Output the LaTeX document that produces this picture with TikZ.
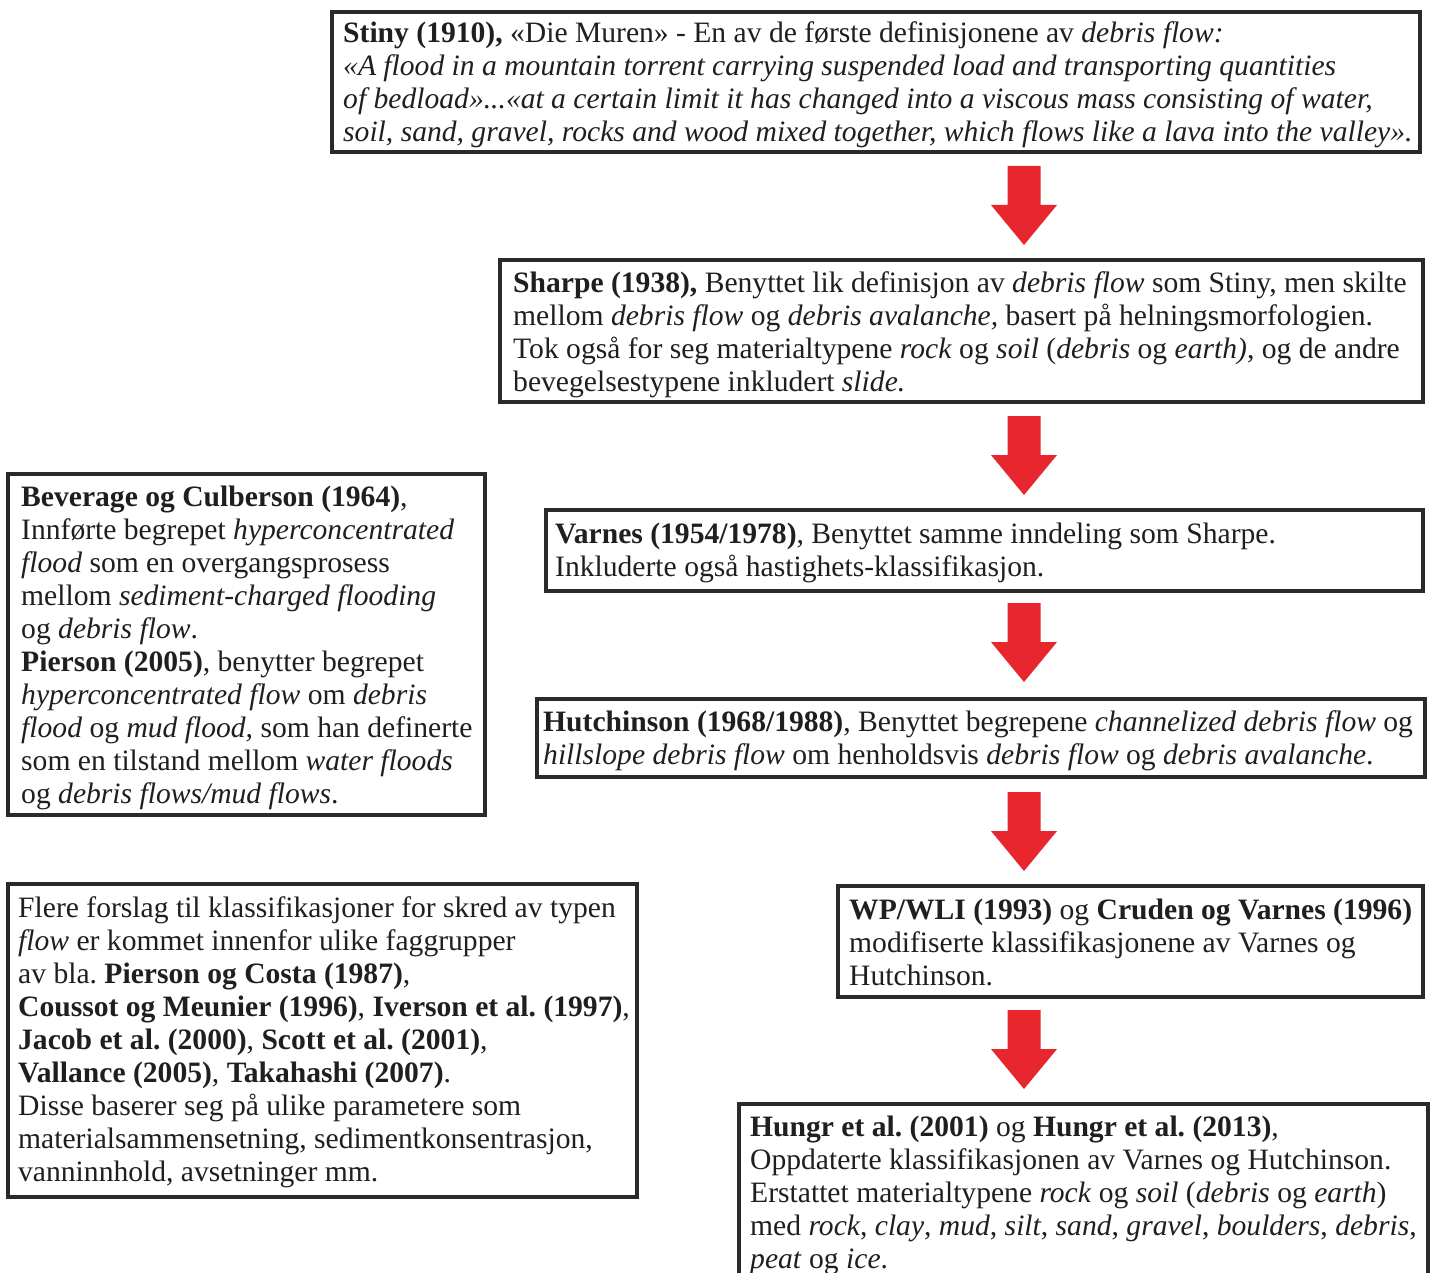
\documentclass[tikz,border=0pt]{standalone}
\usepackage{fontspec}
\setmainfont{Liberation Serif}
\definecolor{boxline}{HTML}{2A2A2A}
\definecolor{arrowred}{HTML}{E8262E}
\tikzset{
  framebox/.style={draw=boxline, line width=4pt, anchor=north west, inner sep=0pt, outer sep=0pt},
  txt/.style={anchor=north west, align=left, inner sep=0pt, text=black!88,
    font=\fontsize{29.6}{33}\selectfont\frenchspacing},
  blockarrow/.pic={\fill[arrowred] (-16.5,0) -- (16.5,0) -- (16.5,39) -- (33,39) -- (0,79) -- (-33,39) -- (-16.5,39) -- cycle;}
}
\begin{document}
\begin{tikzpicture}[x=1pt,y=-1pt]
\useasboundingbox[fill=white] (0,0) rectangle (1435,1273);
\clip (0,0) rectangle (1435,1273);
\coordinate (col) at (1024,0);
% boxes
\node[framebox, minimum width=1088pt, minimum height=140pt] (stiny) at (332,12) {};
\node[framebox, minimum width=923pt, minimum height=142pt] (sharpe) at (500,260) {};
\node[framebox, minimum width=877pt, minimum height=81pt] (varnes) at (546,510) {};
\node[framebox, minimum width=888pt, minimum height=78pt] (hutch) at (537,699) {};
\node[framebox, minimum width=585pt, minimum height=111pt] (wp) at (838,886) {};
\node[framebox, minimum width=689pt, minimum height=220pt] (hungr) at (739,1104) {};
\node[framebox, minimum width=477pt, minimum height=341pt] (bev) at (8,474) {};
\node[framebox, minimum width=629pt, minimum height=313pt] (flere) at (8,884) {};
% texts
\node[txt] (stinyt) at ([shift={(11pt,-7pt)}]stiny.north west) {\strut\textbf{Stiny (1910),} «Die Muren» - En av de første definisjonene av \textit{debris flow:}\\
\textit{«A flood in a mountain torrent carrying suspended load and transporting quantities}\\
\textit{of bedload»...«at a certain limit it has changed into a viscous mass consisting of water,}\\
\textit{soil, sand, gravel, rocks and wood mixed together, which flows like a lava into the valley».}\strut};
\node[txt] (sharpet) at ([shift={(13pt,-9pt)}]sharpe.north west) {\strut\textbf{Sharpe (1938),} Benyttet lik definisjon av \textit{debris flow} som Stiny, men skilte\\
mellom \textit{debris flow} og \textit{debris avalanche,} basert på helningsmorfologien.\\
Tok også for seg materialtypene \textit{rock} og \textit{soil} (\textit{debris} og \textit{earth)}, og de andre\\
bevegelsestypene inkludert \textit{slide.}\strut};
\node[txt] (varnest) at ([shift={(9pt,-10pt)}]varnes.north west) {\strut\textbf{Varnes (1954/1978)}, Benyttet samme inndeling som Sharpe.\\
Inkluderte også hastighets-klassifikasjon.\strut};
\node[txt] (hutcht) at ([shift={(6pt,-9pt)}]hutch.north west) {\strut\textbf{Hutchinson (1968/1988)}, Benyttet begrepene \textit{channelized debris flow} og\\
\textit{hillslope debris flow} om henholdsvis \textit{debris flow} og \textit{debris avalanche}.\strut};
\node[txt] (wpt) at ([shift={(11pt,-10pt)}]wp.north west) {\strut\textbf{WP/WLI (1993)} og \textbf{Cruden og Varnes (1996)}\\
modifiserte klassifikasjonene av Varnes og\\
Hutchinson.\strut};
\node[txt] (hungrt) at ([shift={(11pt,-9pt)}]hungr.north west) {\strut\textbf{Hungr et al. (2001)} og \textbf{Hungr et al. (2013)},\\
Oppdaterte klassifikasjonen av Varnes og Hutchinson.\\
Erstattet materialtypene \textit{rock} og \textit{soil} (\textit{debris} og \textit{earth})\\
med \textit{rock}, \textit{clay}, \textit{mud}, \textit{silt}, \textit{sand}, \textit{gravel}, \textit{boulders}, \textit{debris},\\
\textit{peat} og \textit{ice}.\strut};
\node[txt] (bevt) at ([shift={(13pt,-9pt)}]bev.north west) {\strut\textbf{Beverage og Culberson (1964)},\\
Innførte begrepet \textit{hyperconcentrated}\\
\textit{flood} som en overgangsprosess\\
mellom \textit{sediment-charged flooding}\\
og \textit{debris flow}.\\
\textbf{Pierson (2005)}, benytter begrepet\\
\textit{hyperconcentrated flow} om \textit{debris}\\
\textit{flood} og \textit{mud flood,} som han definerte\\
som en tilstand mellom \textit{water floods}\\
og \textit{debris flows/mud flows}.\strut};
\node[txt] (fleret) at ([shift={(10pt,-10pt)}]flere.north west) {\strut Flere forslag til klassifikasjoner for skred av typen\\
\textit{flow} er kommet innenfor ulike faggrupper\\
av bla. \textbf{Pierson og Costa (1987)},\\
\textbf{Coussot og Meunier (1996)}, \textbf{Iverson et al. (1997)},\\
\textbf{Jacob et al. (2000)}, \textbf{Scott et al. (2001)},\\
\textbf{Vallance (2005)}, \textbf{Takahashi (2007)}.\\
Disse baserer seg på ulike parametere som\\
materialsammensetning, sedimentkonsentrasjon,\\
vanninnhold, avsetninger mm.\strut};
% arrows
\pic at ([yshift=-14pt]stiny.south -| col) {blockarrow};
\pic at ([yshift=-14pt]sharpe.south -| col) {blockarrow};
\pic at ([yshift=-12pt]varnes.south -| col) {blockarrow};
\pic at ([yshift=-15pt]hutch.south -| col) {blockarrow};
\pic at ([yshift=-13pt]wp.south -| col) {blockarrow};
\end{tikzpicture}
\end{document}
